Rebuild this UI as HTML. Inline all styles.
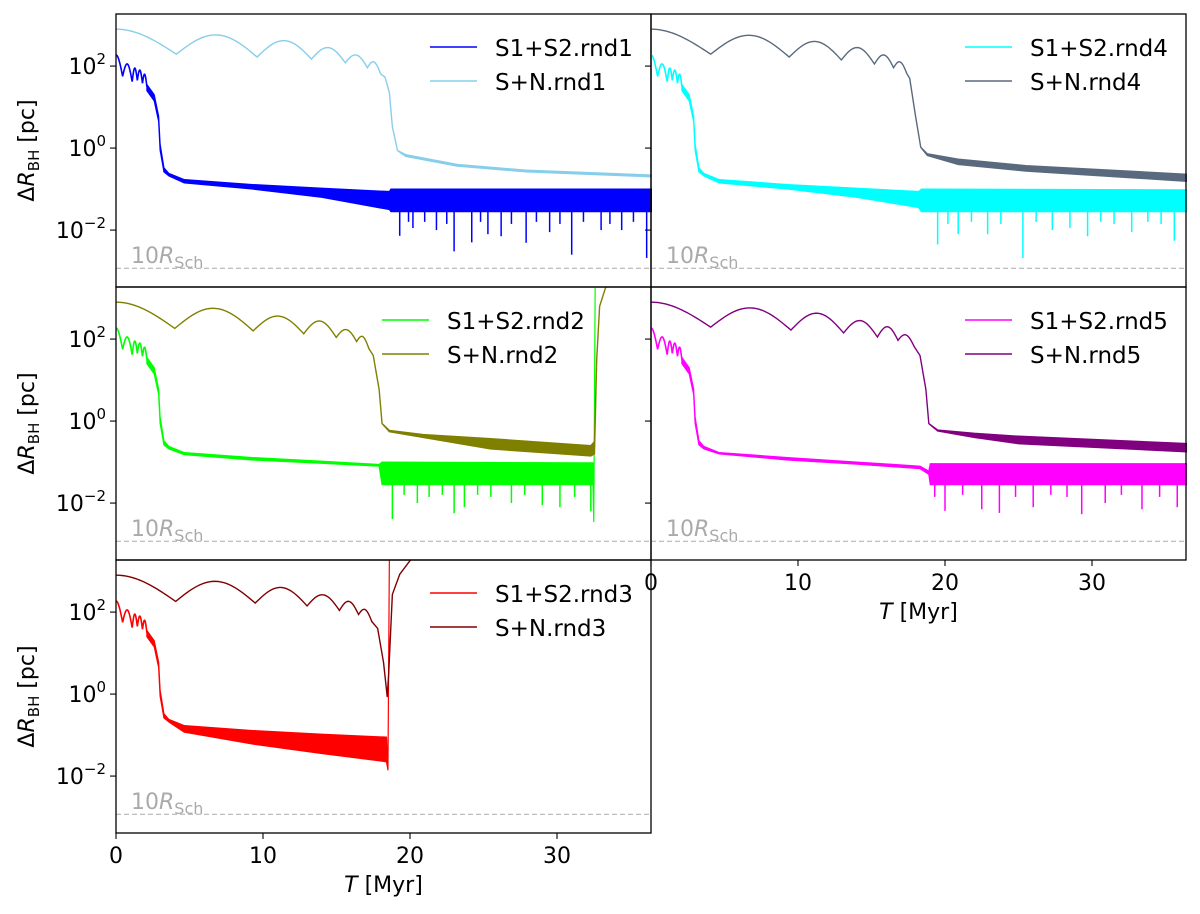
<!DOCTYPE html>
<html><head><meta charset="utf-8"><style>
html,body{margin:0;padding:0;background:#fff;}
svg text{font-family:"DejaVu Sans","Liberation Sans",sans-serif;}
</style></head><body>
<svg id="fig" width="1200" height="909" viewBox="0 0 1200 909" xmlns="http://www.w3.org/2000/svg"></svg>
<script>
// ---------- data (log10 of ΔR in pc, time in Myr) ----------
const yTickVals=[2,0,-2];
const xTickVals=[0,10,20,30];
const schLog=-2.93;
// rnd1
const r1_snMinT=[4.1,9.6,13.3,15.6,17.1,18.0];
const r1_snMinV=[2.29,2.22,2.17,2.08,1.96,1.81];
const r1_snPeakV=[2.9,2.76,2.62,2.45,2.27,2.1];
const r1_snTailT=[18.0,18.3,18.6,18.8,19.15,19.7,23.2,27.9,36.5];
const r1_snTailHi=[1.81,1.73,1.35,0.52,-0.06,-0.16,-0.4,-0.54,-0.66];
const r1_snTailLo=[1.81,1.73,1.35,0.52,-0.06,-0.2,-0.44,-0.58,-0.7];
const r1_ssBandT=[2.1,2.6,2.9,3.0,3.26,3.6,4.65,9.3,14,18.6,18.7,36.5];
const r1_ssBandHi=[1.55,1.3,0.78,0.1,-0.48,-0.62,-0.77,-0.89,-0.98,-1.06,-1.0,-1.0];
const r1_ssBandLo=[1.4,1.15,0.65,-0.05,-0.58,-0.68,-0.85,-1.0,-1.2,-1.5,-1.55,-1.55];
const r1_spikeT=[19.3,19.9,20.2,21.0,21.8,22.5,23.0,24.2,24.8,25.3,26.2,26.9,27.9,28.6,29.5,30.2,31.0,31.8,33.0,33.6,34.4,35.2,36.1];
const r1_spikeV=[-2.14,-1.8,-1.95,-1.8,-2.0,-1.85,-2.52,-2.3,-1.8,-2.1,-2.15,-1.85,-2.31,-1.8,-2.05,-1.85,-2.6,-1.8,-2.0,-1.85,-2.0,-1.8,-2.68];
// rnd2
const r2_snMinT=[4.0,9.33,12.77,14.98,16.37,17.2];
const r2_snMinV=[2.26,2.2,2.13,2.04,1.94,1.77];
const r2_snPeakV=[2.9,2.75,2.56,2.44,2.23,2.06];
const r2_snTailT=[17.2,17.5,17.9,18.1,18.6,20.9,25.5,32.3,32.55,32.7,32.9,33.3,34.5];
const r2_snTailHi=[1.77,1.6,0.77,-0.06,-0.23,-0.33,-0.43,-0.6,-0.5,1.5,2.8,3.25,3.5];
const r2_snTailLo=[1.77,1.6,0.77,-0.06,-0.26,-0.4,-0.68,-0.85,-0.8,1.5,2.8,3.25,3.5];
const r2_ssBandT=[2.1,2.6,2.9,3.0,3.26,3.6,4.65,9.3,14,17.9,18.1,32.45,32.5,32.6];
const r2_ssBandHi=[1.55,1.3,0.78,0.1,-0.48,-0.62,-0.77,-0.89,-0.98,-1.06,-1.0,-1.02,-2.45,3.5];
const r2_ssBandLo=[1.4,1.15,0.65,-0.05,-0.58,-0.68,-0.82,-0.95,-1.03,-1.1,-1.55,-1.55,-2.45,3.5];
const r2_spikeT=[18.8,19.6,20.5,21.3,22.2,23.0,23.7,24.6,25.5,26.9,27.8,29.0,30.2,31.2,32.3];
const r2_spikeV=[-2.39,-1.8,-2.0,-1.85,-1.8,-2.25,-2.1,-1.8,-1.85,-2.0,-1.8,-2.05,-2.1,-1.85,-2.2];
// rnd3
const r3_snMinT=[4.06,9.47,13.0,15.2,16.5,17.4];
const r3_snMinV=[2.26,2.22,2.15,2.04,1.94,1.77];
const r3_snPeakV=[2.9,2.75,2.6,2.42,2.26,2.06];
const r3_snTailT=[17.4,17.8,18.2,18.45,18.55,18.8,19.3,20.2];
const r3_snTailHi=[1.77,1.6,0.77,-0.06,0.5,2.43,2.92,3.35];
const r3_snTailLo=r3_snTailHi;
const r3_ssBandT=[2.1,2.6,2.9,3.0,3.26,3.6,4.65,9.3,14,18.4,18.5,18.6];
const r3_ssBandHi=[1.55,1.3,0.78,0.1,-0.48,-0.62,-0.77,-0.89,-0.98,-1.05,-1.85,3.5];
const r3_ssBandLo=[1.4,1.15,0.65,-0.05,-0.58,-0.68,-0.93,-1.22,-1.45,-1.65,-1.85,3.5];
const r3_spikeT=[];
const r3_spikeV=[];
// rnd4
const r4_snMinT=[4.06,9.4,12.95,15.2,16.5,17.4];
const r4_snMinV=[2.29,2.22,2.15,2.05,1.96,1.82];
const r4_snPeakV=[2.9,2.75,2.6,2.45,2.27,2.1];
const r4_snTailT=[17.4,17.6,18.0,18.35,18.8,20.9,25.5,36.5];
const r4_snTailHi=[1.82,1.7,0.77,0.02,-0.14,-0.27,-0.43,-0.64];
const r4_snTailLo=[1.82,1.7,0.77,0.02,-0.18,-0.4,-0.56,-0.81];
const r4_ssBandT=[2.1,2.6,2.9,3.0,3.26,3.6,4.65,9.3,14,18.2,18.4,36.5];
const r4_ssBandHi=[1.55,1.3,0.78,0.1,-0.48,-0.62,-0.77,-0.89,-0.98,-1.06,-1.0,-1.02];
const r4_ssBandLo=[1.4,1.15,0.65,-0.05,-0.58,-0.68,-0.85,-1.0,-1.2,-1.45,-1.55,-1.55];
const r4_spikeT=[19.5,20.2,20.9,21.8,22.9,23.8,25.3,26.2,27.3,28.5,29.7,30.6,31.5,32.7,33.8,34.7,35.6];
const r4_spikeV=[-2.35,-1.85,-2.1,-1.8,-2.1,-1.85,-2.68,-1.8,-2.0,-1.95,-2.15,-1.8,-1.85,-2.05,-1.8,-1.85,-2.26];
// rnd5
const r5_snMinT=[4.06,9.52,13.1,15.4,16.8,17.9];
const r5_snMinV=[2.29,2.22,2.15,2.05,1.97,1.82];
const r5_snPeakV=[2.9,2.76,2.63,2.45,2.3,2.1];
const r5_snTailT=[17.9,18.3,18.7,18.9,19.5,22,25,36.5];
const r5_snTailHi=[1.82,1.6,0.77,-0.06,-0.22,-0.3,-0.37,-0.55];
const r5_snTailLo=[1.82,1.6,0.77,-0.06,-0.24,-0.4,-0.55,-0.75];
const r5_ssBandT=[2.1,2.6,2.9,3.0,3.26,3.6,4.65,9.3,14,18.3,18.9,19.0,36.5];
const r5_ssBandHi=[1.55,1.3,0.78,0.1,-0.48,-0.62,-0.77,-0.89,-1.0,-1.1,-1.22,-1.04,-1.04];
const r5_ssBandLo=[1.4,1.15,0.65,-0.05,-0.58,-0.68,-0.8,-0.95,-1.05,-1.16,-1.3,-1.55,-1.55];
const r5_spikeT=[19.3,20.0,21.2,22.5,23.7,24.8,26.0,27.2,28.3,29.3,30.9,32.0,33.4,34.6,35.8];
const r5_spikeV=[-1.85,-2.19,-1.8,-2.15,-2.24,-1.85,-2.1,-1.8,-1.85,-2.27,-2.0,-1.8,-2.15,-1.85,-2.1];
// shared early S1+S2 oscillations
const oscMinT=[0.45,1.1,1.45,1.8,2.1];
const oscMinV=[1.75,1.62,1.65,1.58,1.5];
const oscPeakV=[2.27,2.05,1.95,1.9,1.8];

const panels=[
 {id:'rnd1',x0:116,y0:14,ss:'#0000ff',sn:'#87ceeb',leg:430,xl:false,yl:true,
  snMinT:r1_snMinT,snMinV:r1_snMinV,snPeakV:r1_snPeakV,tT:r1_snTailT,tH:r1_snTailHi,tL:r1_snTailLo,bT:r1_ssBandT,bH:r1_ssBandHi,bL:r1_ssBandLo,sT:r1_spikeT,sV:r1_spikeV},
 {id:'rnd2',x0:116,y0:287,ss:'#00ff00',sn:'#808000',leg:382,xl:false,yl:true,
  snMinT:r2_snMinT,snMinV:r2_snMinV,snPeakV:r2_snPeakV,tT:r2_snTailT,tH:r2_snTailHi,tL:r2_snTailLo,bT:r2_ssBandT,bH:r2_ssBandHi,bL:r2_ssBandLo,sT:r2_spikeT,sV:r2_spikeV},
 {id:'rnd3',x0:116,y0:560,ss:'#ff0000',sn:'#800000',leg:430,xl:true,yl:true,
  snMinT:r3_snMinT,snMinV:r3_snMinV,snPeakV:r3_snPeakV,tT:r3_snTailT,tH:r3_snTailHi,tL:r3_snTailLo,bT:r3_ssBandT,bH:r3_ssBandHi,bL:r3_ssBandLo,sT:r3_spikeT,sV:r3_spikeV},
 {id:'rnd4',x0:651,y0:14,ss:'#00ffff',sn:'#5a6a7e',leg:965,xl:false,yl:false,
  snMinT:r4_snMinT,snMinV:r4_snMinV,snPeakV:r4_snPeakV,tT:r4_snTailT,tH:r4_snTailHi,tL:r4_snTailLo,bT:r4_ssBandT,bH:r4_ssBandHi,bL:r4_ssBandLo,sT:r4_spikeT,sV:r4_spikeV},
 {id:'rnd5',x0:651,y0:287,ss:'#ff00ff',sn:'#800080',leg:965,xl:true,yl:false,
  snMinT:r5_snMinT,snMinV:r5_snMinV,snPeakV:r5_snPeakV,tT:r5_snTailT,tH:r5_snTailHi,tL:r5_snTailLo,bT:r5_ssBandT,bH:r5_ssBandHi,bL:r5_ssBandLo,sT:r5_spikeT,sV:r5_spikeV}
];
const W=535,H=273,PX=14.7,PY=41,TOP=3.27;
const NS='http://www.w3.org/2000/svg';
const svg=document.getElementById('fig');
function mk(tag,attrs,parent){const e=document.createElementNS(NS,tag);for(const k in attrs)e.setAttribute(k,attrs[k]);(parent||svg).appendChild(e);return e;}
function arcPts(startV,minT,minV,peakV){
  const pts=[];let pt=0,pv=startV;
  for(let i=0;i<minT.length;i++){
    const t1=minT[i],v1=minV[i];
    for(let k=0;k<=30;k++){const u=k/30;let v,t=pt+(t1-pt)*u;
      if(i===0){v=v1+(startV-v1)*Math.cos(u*Math.PI/2);}
      else{const lin=pv+(v1-pv)*u;v=lin+(peakV[i]-(pv+v1)/2)*Math.sin(Math.PI*u);}
      pts.push([t,v]);}
    pt=t1;pv=v1;}
  return pts;}
let defs=mk('defs',{});
panels.forEach((p,pi)=>{
  const X=t=>p.x0+t*PX, Y=v=>p.y0+(TOP-v)*PY;
  const cp=mk('clipPath',{id:'c'+pi},defs);mk('rect',{x:p.x0,y:p.y0,width:W+1,height:H},cp);
  const g=mk('g',{'clip-path':'url(#c'+pi+')'});
  
  
  const osc=arcPts(oscPeakV[0],oscMinT,oscMinV,oscPeakV);
  const ol=mk('polyline',{points:osc.map(q=>X(q[0])+','+Y(q[1])).join(' '),fill:'none',stroke:p.ss,'stroke-width':1.6},g);
  
  
  let pts=p.bT.map((t,i)=>X(t)+','+Y(p.bH[i]));
  for(let i=p.bT.length-1;i>=0;i--)pts.push(X(p.bT[i])+','+Y(p.bL[i]));
  const band=mk('polygon',{points:pts.join(' '),fill:p.ss,stroke:p.ss,'stroke-width':1.2,'stroke-linejoin':'round'},g);
  
  
  p.sT.forEach((t,i)=>{
    const s=mk('line',{x1:X(t),x2:X(t),y1:Y(-1.4),y2:Y(p.sV[i]),stroke:p.ss,'stroke-width':1.5},g);
    
    
  });
  const sn=arcPts(p.snPeakV[0],p.snMinT,p.snMinV,p.snPeakV);
  const sl=mk('polyline',{points:sn.map(q=>X(q[0])+','+Y(q[1])).join(' '),fill:'none',stroke:p.sn,'stroke-width':1.4},g);
  
  
  let tp=p.tT.map((t,i)=>X(t)+','+Y(p.tH[i]));
  for(let i=p.tT.length-1;i>=0;i--)tp.push(X(p.tT[i])+','+Y(p.tL[i]));
  const tb=mk('polygon',{points:tp.join(' '),fill:p.sn,stroke:p.sn,'stroke-width':1.4,'stroke-linejoin':'round'},g);
  
  
  const dl=mk('line',{x1:p.x0,x2:p.x0+W,y1:Y(schLog),y2:Y(schLog),stroke:'#aaa','stroke-width':1,'stroke-dasharray':'5,3'});
  
  
  const st=mk('text',{x:p.x0+15,y:p.y0+249,fill:'#aaa','font-size':22});
  
  
  st.innerHTML='10<tspan font-style="italic">R</tspan><tspan font-size="16" dy="5">Sch</tspan>';
  const fr=mk('rect',{x:p.x0,y:p.y0,width:W,height:H,fill:'none',stroke:'#000','stroke-width':1.3});
  
  
  yTickVals.forEach(v=>{
    mk('line',{x1:p.x0-6,x2:p.x0,y1:Y(v),y2:Y(v),stroke:'#000','stroke-width':1.1});
    if(p.yl){const t=mk('text',{x:p.x0-10,y:Y(v)+8,'text-anchor':'end','font-size':22});
      
      
      t.innerHTML='10<tspan font-size="15" dy="-10">'+(v<0?'−'+(-v):v)+'</tspan>';}
  });
  if(p.yl){const yl=mk('text',{transform:'translate(34,'+(p.y0+H/2)+') rotate(-90)','text-anchor':'middle','font-size':22});
    
    
    yl.innerHTML='Δ<tspan font-style="italic">R</tspan><tspan font-size="15" dy="5">BH</tspan><tspan dy="-5"> [pc]</tspan>';}
  if(p.xl){
    xTickVals.forEach(v=>{
      mk('line',{x1:X(v),x2:X(v),y1:p.y0+H,y2:p.y0+H+6,stroke:'#000','stroke-width':1.1});
      const t=mk('text',{x:X(v),y:p.y0+H+30,'text-anchor':'middle','font-size':22});
      
      
      t.textContent=v;});
    const xt=mk('text',{x:p.x0+W/2,y:p.y0+H+59,'text-anchor':'middle','font-size':22});
    
    
    xt.innerHTML='<tspan font-style="italic">T</tspan> [Myr]';}
  [[p.ss,'S1+S2.'+p.id,47],[p.sn,'S+N.'+p.id,81]].forEach(e=>{
    const ln=mk('line',{x1:p.leg,x2:p.leg+47,y1:p.y0+e[2]-14,y2:p.y0+e[2]-14,stroke:e[0],'stroke-width':1.6});
    
    
    const t=mk('text',{x:p.leg+65,y:p.y0+e[2]-5,'font-size':23});
    
    
    t.textContent=e[1];});
});
</script>
</body></html>
